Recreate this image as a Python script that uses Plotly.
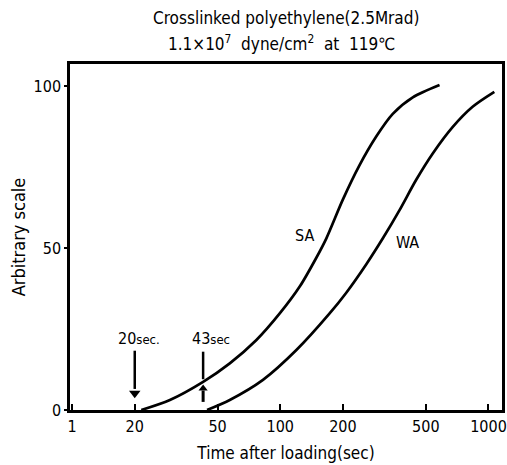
import math
import plotly.graph_objects as go

# SA curve (time s, arbitrary scale)
sa_t = [21.5, 29.5, 42.6, 57.2, 76.8, 99.4, 124, 149, 166.5, 200, 240, 289, 347, 433, 582]
sa_y = [0, 3.1, 8.7, 14.4, 21.6, 29.8, 38.1, 47.0, 53.0, 65.0, 75.5, 84.4, 91.4, 96.5, 100.3]

# WA curve
wa_t = [44.5, 57.2, 82.6, 119.5, 172.6, 207.5, 259, 311, 374, 449, 540, 674, 839, 1067]
wa_y = [0, 3.1, 9.3, 18.5, 29.8, 36.2, 45.0, 53.0, 61.7, 71.0, 79.2, 87.4, 93.6, 98.2]

x_tickvals = [10, 20, 50, 100, 200, 500, 1000]
x_ticktext = ["1", "20", "50", "100", "200", "500", "1000"]
y_tickvals = [0, 50, 100]

FONT = "DejaVu Sans Condensed, DejaVu Sans, Liberation Sans, sans-serif"

fig = go.Figure()
for t, y in [(sa_t, sa_y), (wa_t, wa_y)]:
    fig.add_trace(go.Scatter(x=t, y=y, mode="lines",
                             line=dict(color="black", width=2.7, shape="spline", smoothing=0.8),
                             showlegend=False, hoverinfo="skip"))

# 20 sec arrow (pointing down)
fig.add_trace(go.Scatter(x=[20, 20], y=[18.3, 6.5], mode="lines", line=dict(color="black", width=2.5),
                         showlegend=False, hoverinfo="skip"))
fig.add_trace(go.Scatter(x=[20], y=[5.2], mode="markers", marker=dict(symbol="triangle-down", size=10, color="black"),
                         showlegend=False, hoverinfo="skip"))
# 43 sec marker: line down to curve, arrow up from below
fig.add_trace(go.Scatter(x=[42.6, 42.6], y=[18, 9.5], mode="lines", line=dict(color="black", width=2.5),
                         showlegend=False, hoverinfo="skip"))
fig.add_trace(go.Scatter(x=[42.6, 42.6], y=[2.5, 6], mode="lines", line=dict(color="black", width=3),
                         showlegend=False, hoverinfo="skip"))
fig.add_trace(go.Scatter(x=[42.6], y=[6.6], mode="markers", marker=dict(symbol="triangle-up", size=8, color="black"),
                         showlegend=False, hoverinfo="skip"))

annos = [
    dict(x=math.log10(131), y=54, text="SA", size=16),
    dict(x=math.log10(410), y=51.6, text="WA", size=16),
    dict(x=math.log10(21.0), y=22, text="20<span style='font-size:13px'>sec.</span>", size=16),
    dict(x=math.log10(46.5), y=22, text="43<span style='font-size:13px'>sec</span>", size=16),
]
for a in annos:
    s = a.pop("size")
    fig.add_annotation(xref="x", yref="y", showarrow=False,
                       font=dict(family=FONT, color="black", size=s), **a)

fig.add_annotation(xref="paper", yref="paper", x=0.5, y=1, yanchor="middle", yshift=46, showarrow=False,
                   text="Crosslinked polyethylene(2.5Mrad)", font=dict(family=FONT, size=17, color="black"))
fig.add_annotation(xref="paper", yref="paper", x=0.49, y=1, yanchor="middle", yshift=21, showarrow=False,
                   text="1.1×10<sup>7</sup>  dyne/cm<sup>2</sup>  at  119℃", font=dict(family=FONT, size=17, color="black"))

fig.update_xaxes(type="log", range=[0.99, 3.065], tickvals=x_tickvals, ticktext=x_ticktext, automargin=False,
                 ticks="inside", ticklen=6, tickwidth=2, tickcolor="black",
                 showline=True, linecolor="black", linewidth=2.5, mirror=True, showgrid=False, zeroline=False,
                 tickfont=dict(family=FONT, size=16, color="black"),
                 title=dict(text="Time after loading(sec)", font=dict(family=FONT, size=17, color="black"), standoff=13))
fig.update_yaxes(range=[0, 106.8], tickvals=y_tickvals, automargin=False,
                 ticks="outside", ticklen=3, tickwidth=2, tickcolor="black",
                 showline=True, linecolor="black", linewidth=2.5, mirror=True, showgrid=False, zeroline=False,
                 tickfont=dict(family=FONT, size=16, color="black"),
                 title=dict(text="Arbitrary scale", font=dict(family=FONT, size=18, color="black"), standoff=4))

fig.update_layout(width=507, height=465, margin=dict(l=70, r=5, t=64, b=55),
                  plot_bgcolor="white", paper_bgcolor="white", showlegend=False)
fig.write_html("out.html")
